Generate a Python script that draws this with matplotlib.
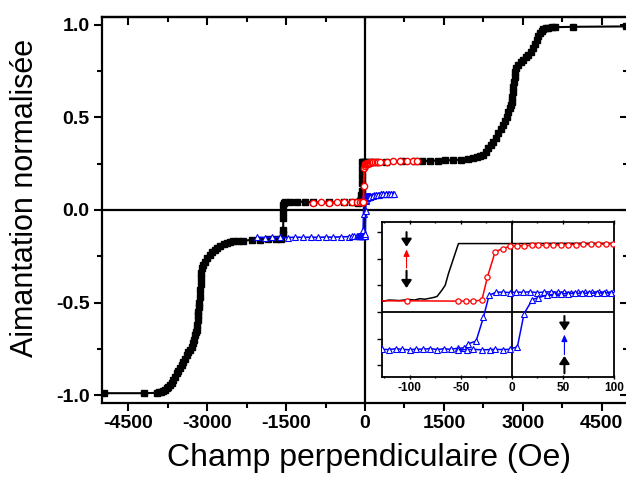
import matplotlib
matplotlib.use("Agg")
import matplotlib.pyplot as plt
from matplotlib.ticker import MultipleLocator

plt.rcParams['font.family'] = ['Liberation Sans', 'DejaVu Sans']

# ---------------- data (field in Oe, normalised magnetisation) ----------------
black_field = [-4960, -4200, -3960, -3920, -3880, -3840, -3800,
               -3770, -3740, -3710, -3675, -3645, -3610, -3580, -3550, -3515, -3485,
               -3455, -3420, -3390, -3360, -3325, -3295, -3270, -3250, -3232, -3215,
               -3200, -3190, -3181, -3175, -3169, -3162, -3156, -3146, -3137, -3127,
               -3118, -3110, -3105, -3075, -3042, -2995, -2947, -2900, -2852, -2805,
               -2757, -2690, -2630, -2565, -2503, -2410, -2313, -2155, -2000, -1850,
               -1700, -1600, -1560, -1556, -1554, -1552, -1550, -1540, -1521, -1425,
               -1300, -1140, -985, -685, -395, -240, -127, -120, -110, -100, -95, -90,
               -85, -80, -76, -73, -68.4, -65.2, -62, -58.7, -55.4, -52.2, -45, -30,
               0, 50, 100, 200, 400, 700, 950,
               1080, 1230, 1380, 1530, 1680, 1830, 1960, 2050, 2124, 2190, 2250,
               2300, 2345, 2395, 2440, 2490, 2535, 2585, 2630, 2665, 2693, 2725, 2757,
               2775, 2788, 2798, 2807, 2820, 2833, 2843, 2852, 2880, 2915, 2960, 3010,
               3058, 3105, 3150, 3200, 3232, 3264, 3295, 3327, 3360, 3390, 3435, 3485,
               3550, 3612, 3960, 4962]
black_m = [-0.99, -0.99, -0.988, -0.986, -0.983, -0.979, -0.973,
           -0.964, -0.955, -0.945, -0.937, -0.92, -0.90, -0.883, -0.868, -0.853, -0.838,
           -0.822, -0.803, -0.784, -0.77, -0.754, -0.739, -0.72, -0.70, -0.676, -0.66,
           -0.649, -0.62, -0.595, -0.57, -0.55, -0.525, -0.504, -0.468, -0.432, -0.40,
           -0.369, -0.34, -0.315, -0.297, -0.279, -0.26, -0.243, -0.228, -0.216, -0.205,
           -0.195, -0.185, -0.177, -0.173, -0.17, -0.168, -0.166, -0.162, -0.16, -0.158,
           -0.157, -0.155, -0.13, -0.108, -0.044, -0.01, 0.027, 0.04, 0.045, 0.045,
           0.045, 0.045, 0.042, 0.041, 0.041, 0.042, 0.04, 0.045, 0.043, 0.047, 0.045, 0.05,
           0.048, 0.052, 0.055, 0.059, 0.082, 0.10, 0.144, 0.182, 0.22, 0.257, 0.257, 0.257,
           0.257, 0.258, 0.258, 0.259, 0.261, 0.263, 0.264,
           0.265, 0.266, 0.267, 0.268, 0.27, 0.272, 0.275, 0.28, 0.288, 0.293, 0.297,
           0.315, 0.333, 0.35, 0.369, 0.39, 0.414, 0.436, 0.459, 0.48, 0.504, 0.527, 0.55,
           0.568, 0.586, 0.612, 0.64, 0.667, 0.694, 0.72, 0.748, 0.768, 0.784, 0.798, 0.811,
           0.825, 0.838, 0.855, 0.874, 0.895, 0.919, 0.938, 0.955, 0.968, 0.978, 0.983, 0.986,
           0.988, 0.988, 0.99, 0.992]

red_field = [-983, -837, -684, -538, -393, -241, -160, -102.6, -52.2, -44.7, -37.5,
             -29.3, -23.8, -16.3, -8.8, -1.7, 4.9, 12, 19.5, 26, 33.2, 40.7, 47.9, 55.3,
             62.5, 70, 77.2, 84.7, 91.9, 99.3, 115, 135, 160, 190, 220, 250, 285, 412,
             538, 665, 792, 919, 990]
red_m = [0.04, 0.041, 0.04, 0.042, 0.041, 0.042, 0.042, 0.042, 0.041, 0.041, 0.041,
         0.045, 0.132, 0.226, 0.238, 0.247, 0.248, 0.249, 0.25, 0.25, 0.251, 0.252, 0.252,
         0.253, 0.253, 0.254, 0.254, 0.255, 0.255, 0.256, 0.257, 0.258, 0.258, 0.259, 0.26,
         0.26, 0.261, 0.262, 0.263, 0.264, 0.265, 0.266, 0.266]

blue_down_field = [-2050, -1905, -1760, -1615, -1470, -1325, -1180, -1035, -890, -745,
                   -600, -455, -310, -250, -200, -160, -127, -120.5, -113.7, -107, -100,
                   -93.5, -86.7, -80, -73, -66.5, -59.7, -53, -46.5, -42.4, -34.9, -27.7,
                   -22.2, -15.5, -8.9, -2, 4.6, 11.4, 18, 24.8, 31.5, 38, 45, 51.5, 58.3,
                   65, 71.7, 78.5, 85, 92, 98.7, 130, 170, 215, 260, 305, 350, 395, 440,
                   485, 530]
blue_down_m = [-0.148, -0.149, -0.147, -0.148, -0.149, -0.147, -0.148, -0.147, -0.148,
               -0.146, -0.147, -0.145, -0.144, -0.142, -0.14, -0.141, -0.14, -0.141,
               -0.138, -0.14, -0.142, -0.139, -0.14, -0.137, -0.141, -0.138, -0.14,
               -0.136, -0.135, -0.119, -0.109, -0.019, 0.063, 0.074, 0.075, 0.073, 0.075,
               0.074, 0.076, 0.073, 0.075, 0.076, 0.074, 0.075, 0.073, 0.075, 0.074,
               0.075, 0.076, 0.074, 0.075, 0.078, 0.08, 0.082, 0.083, 0.085, 0.085,
               0.086, 0.087, 0.088, 0.088]

blue_up_field = [-52.2, -44, -37.5, -29.3, -21.2, -16.3, -8.8, -1.7, 5.5, 12, 20.2, 26,
                 34.2, 41, 48, 55, 62, 69, 76, 83, 90, 97, 150, 200, 250, 300, 350, 400,
                 450, 500, 550]
blue_up_m = [-0.142, -0.141, -0.14, -0.142, -0.141, -0.14, -0.141, -0.14, -0.13, -0.006,
             0.047, 0.054, 0.063, 0.066, 0.068, 0.069, 0.07, 0.07, 0.071, 0.071, 0.072,
             0.072, 0.078, 0.08, 0.082, 0.084, 0.085, 0.086, 0.087, 0.088, 0.088]

x_ticks = [-4500, -3000, -1500, 0, 1500, 3000, 4500]
y_ticks = [-1.0, -0.5, 0.0, 0.5, 1.0]
inset_x_ticks = [-100, -50, 0, 50, 100]

# ---------------- figure ----------------
fig = plt.figure(figsize=(6.26, 4.84), dpi=100)
ax = fig.add_axes([102/626, 1-403/484, 526/626, 386/484])
ax.set_xlim(-5000, 5000)
ax.set_ylim(-1.043, 1.043)

ax.axhline(0, color='black', lw=1.6, zorder=2)
ax.axvline(0, color='black', lw=1.6, zorder=2)

ax.plot(black_field, black_m, color='black', lw=1.5, marker='s', ms=3.8,
        mfc='black', mec='black', zorder=3)
ax.plot(blue_down_field, blue_down_m, color='blue', lw=1.2, marker='^', ms=5,
        mfc='white', mec='blue', mew=0.8, zorder=4)
ax.plot(blue_up_field, blue_up_m, color='blue', lw=1.2, marker='^', ms=5,
        mfc='white', mec='blue', mew=0.8, zorder=4)
ax.plot(red_field, red_m, color='red', lw=1.5, marker='o', ms=4.5,
        mfc='white', mec='red', mew=1.0, zorder=5)

ax.set_xticks(x_ticks)
ax.set_xticklabels([str(v) for v in x_ticks])
ax.set_yticks(y_ticks)
ax.set_yticklabels([f"{v:.1f}" for v in y_ticks])
ax.xaxis.set_minor_locator(MultipleLocator(750))
ax.yaxis.set_minor_locator(MultipleLocator(0.25))
ax.tick_params(which='major', direction='out', length=6, width=1.5, labelsize=14, pad=3)
ax.tick_params(which='minor', direction='out', length=3.5, width=1.5)
for lab in ax.get_xticklabels() + ax.get_yticklabels():
    lab.set_fontweight('bold')
for sp in ax.spines.values():
    sp.set_linewidth(1.6)

top = ax.secondary_xaxis('top')
top.set_xticks(x_ticks)
top.xaxis.set_minor_locator(MultipleLocator(750))
top.tick_params(which='major', direction='in', length=6, width=1.5, labeltop=False)
top.tick_params(which='minor', direction='in', length=3.5, width=1.5)
top.spines['top'].set_linewidth(1.6)
right = ax.secondary_yaxis('right')
right.set_yticks(y_ticks)
right.yaxis.set_minor_locator(MultipleLocator(0.25))
right.tick_params(which='major', direction='in', length=6, width=1.5, labelright=False)
right.tick_params(which='minor', direction='in', length=3.5, width=1.5)

fig.text(25/626, 1-198/484, "Aimantation normalisée", rotation=90, ha='center',
         va='center', fontsize=22)
fig.text(369/626, 1-458/484, "Champ perpendiculaire (Oe)", ha='center', va='center',
         fontsize=23)

# ---------------- inset ----------------
axi = fig.add_axes([382/626, 1-377/484, 232/626, 155/484])
axi.set_facecolor('white')
axi.set_zorder(10)
axi.set_xlim(-127, 100)
axi.set_ylim(-0.244, 0.338)
axi.axhline(0, color='black', lw=1.3, zorder=1)
axi.axvline(0, color='black', lw=1.3, zorder=1)
axi.plot(black_field, black_m, color='black', lw=1.1, zorder=2)
axi.plot(red_field, red_m, color='red', lw=1.1, marker='o', ms=3.8, mfc='white',
         mec='red', mew=0.9, zorder=3)
axi.plot(blue_down_field, blue_down_m, color='blue', lw=1.1, marker='^', ms=4.2,
         mfc='white', mec='blue', mew=0.8, zorder=3)
axi.plot(blue_up_field, blue_up_m, color='blue', lw=1.1, marker='^', ms=4.2,
         mfc='white', mec='blue', mew=0.8, zorder=3)

axi.set_xticks(inset_x_ticks)
axi.set_xticklabels([str(v) for v in inset_x_ticks])
axi.xaxis.set_minor_locator(MultipleLocator(25))
axi.yaxis.set_major_locator(MultipleLocator(0.1))
axi.tick_params(axis='y', which='both', labelleft=False)
axi.tick_params(which='major', direction='out', length=3.5, width=1.0, labelsize=8.5, pad=1.5)
axi.tick_params(which='minor', direction='out', length=2, width=1.0)
axi.tick_params(axis='x', which='both', top=True, direction='inout')
for lab in axi.get_xticklabels():
    lab.set_fontweight('bold')
for sp in axi.spines.values():
    sp.set_linewidth(1.3)

def arrow(x, y0, y1, color, thick):
    if thick:
        props = dict(arrowstyle='-|>,head_width=0.3,head_length=0.45', color=color,
                     lw=1.5, shrinkA=0, shrinkB=0)
    else:
        props = dict(arrowstyle='-|>,head_width=0.18,head_length=0.4', color=color,
                     lw=0.8, shrinkA=0, shrinkB=0)
    axi.annotate('', xy=(x, y1), xytext=(x, y0), arrowprops=props, zorder=4)

arrow(-103, 0.30, 0.245, 'black', True)
arrow(-103, 0.165, 0.235, 'red', False)
arrow(-103, 0.155, 0.09, 'black', True)
arrow(51.5, -0.015, -0.07, 'black', True)
arrow(51.5, -0.16, -0.085, 'blue', False)
arrow(51.5, -0.23, -0.165, 'black', True)

fig.savefig("out.png", dpi=100)
